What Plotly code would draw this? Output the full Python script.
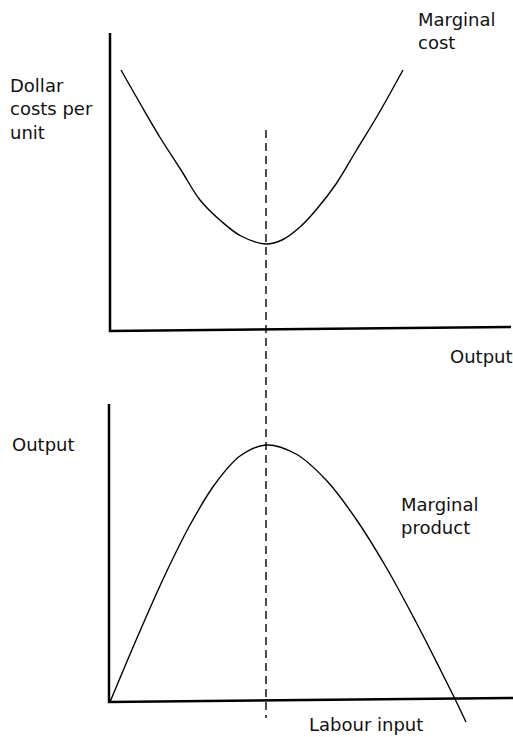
import plotly.graph_objects as go

W, H = 513, 737

# Diagram coordinates (in the picture's pixel space)
mc_x = [121, 141, 161, 181, 200, 221, 241, 266, 282, 300, 316, 336, 356, 379, 403]
mc_y = [70, 105, 139, 170, 200, 221, 236, 244, 240, 227, 210, 184, 151, 113, 70]

mp_x = [110, 120, 140, 165, 190, 215, 240, 266, 296, 327, 356, 386, 416, 441, 455, 466]
mp_y = [702, 678, 631, 575, 525, 484, 456, 445, 454, 481, 519, 567, 622, 671, 699, 722]

top_axis_x = [110, 110, 511]
top_axis_y = [33, 331, 327]
bot_axis_x = [109, 109, 513]
bot_axis_y = [404, 702, 698]

dash_x = [266, 266]
dash_y = [130, 718]

labels = [
    ("Dollar<br>costs per<br>unit", 8, 109),
    ("Marginal<br>cost", 416, 31),
    ("Output", 448, 356),
    ("Output", 10, 444),
    ("Marginal<br>product", 399, 516),
    ("Labour input", 307, 724),
]

fig = go.Figure()
fig.add_trace(go.Scatter(x=top_axis_x, y=top_axis_y, mode="lines",
                         line=dict(color="black", width=2.5), hoverinfo="skip"))
fig.add_trace(go.Scatter(x=bot_axis_x, y=bot_axis_y, mode="lines",
                         line=dict(color="black", width=2.5), hoverinfo="skip"))
fig.add_trace(go.Scatter(x=dash_x, y=dash_y, mode="lines",
                         line=dict(color="black", width=1.4, dash="8px,5px"), hoverinfo="skip"))
fig.add_trace(go.Scatter(x=mc_x, y=mc_y, mode="lines",
                         line=dict(color="black", width=1.4, shape="spline", smoothing=1.0),
                         hoverinfo="skip"))
fig.add_trace(go.Scatter(x=mp_x, y=mp_y, mode="lines",
                         line=dict(color="black", width=1.4, shape="spline", smoothing=1.0),
                         hoverinfo="skip"))

for text, x, y in labels:
    fig.add_annotation(x=x, y=y, xref="x", yref="y", text=text, showarrow=False,
                       xanchor="left", yanchor="middle", align="left",
                       font=dict(family="DejaVu Sans", size=18, color="#111"))

fig.update_layout(
    width=W, height=H, margin=dict(l=0, r=0, t=0, b=0),
    paper_bgcolor="white", plot_bgcolor="white", showlegend=False,
    xaxis=dict(range=[0, W], visible=False, fixedrange=True),
    yaxis=dict(range=[H, 0], visible=False, fixedrange=True),
)
fig.write_html(
    "out.html",
    config={"displayModeBar": False},
    post_script=(
        "document.documentElement.style.overflow='hidden';"
        "document.body.style.margin='0';"
        "document.body.style.overflow='hidden';"
    ),
)
